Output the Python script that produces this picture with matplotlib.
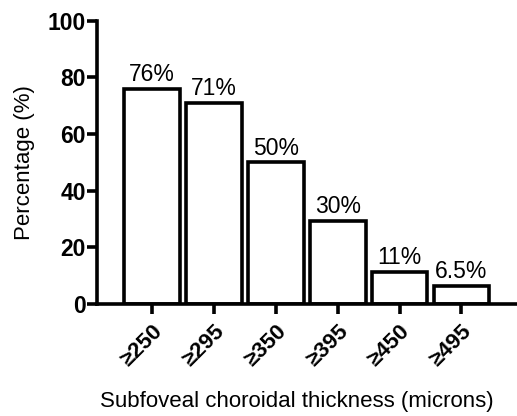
import matplotlib
matplotlib.use("Agg")
import matplotlib.pyplot as plt

categories = ["≥250", "≥295", "≥350", "≥395", "≥450", "≥495"]
values = [76, 71, 50, 29.5, 11.5, 6.5]
bar_labels = ["76%", "71%", "50%", "30%", "11%", "6.5%"]

plt.rcParams['font.family'] = ['Liberation Sans', 'DejaVu Sans']

fig = plt.figure(figsize=(5.17, 4.16), dpi=100)
ax = fig.add_axes([0.188, 0.269, 0.812, 0.681])

x = list(range(len(categories)))
ax.bar(x, values, width=0.9, color='white', edgecolor='black', linewidth=2.6)

for xi, v, lab in zip(x, values, bar_labels):
    ax.text(xi, v + 1.0, lab, ha='center', va='bottom', fontsize=16.5)

ax.set_xlim(-0.89, 5.9)
ax.set_ylim(0, 100)
ax.set_yticks([0, 20, 40, 60, 80, 100])
ax.set_xticks(x)
ax.set_xticklabels(categories, rotation=45, ha='right', rotation_mode='anchor',
                   fontsize=16, fontweight='bold')
for lab in ax.get_yticklabels():
    lab.set_fontsize(16.5)
    lab.set_fontweight('bold')

ax.spines['top'].set_visible(False)
ax.spines['right'].set_visible(False)
ax.spines['left'].set_linewidth(2.6)
ax.spines['bottom'].set_linewidth(2.6)
ax.spines['left'].set_capstyle('projecting')
ax.tick_params(axis='both', width=2.6, length=7, direction='out')
ax.tick_params(axis='x', pad=5)
ax.tick_params(axis='y', pad=1)

ax.set_ylabel("Percentage (%)", fontsize=16, labelpad=9)
ax.set_xlabel("Subfoveal choroidal thickness (microns)", fontsize=16)
ax.xaxis.set_label_coords(0.476, -0.305)

fig.savefig("out.png", dpi=100)
